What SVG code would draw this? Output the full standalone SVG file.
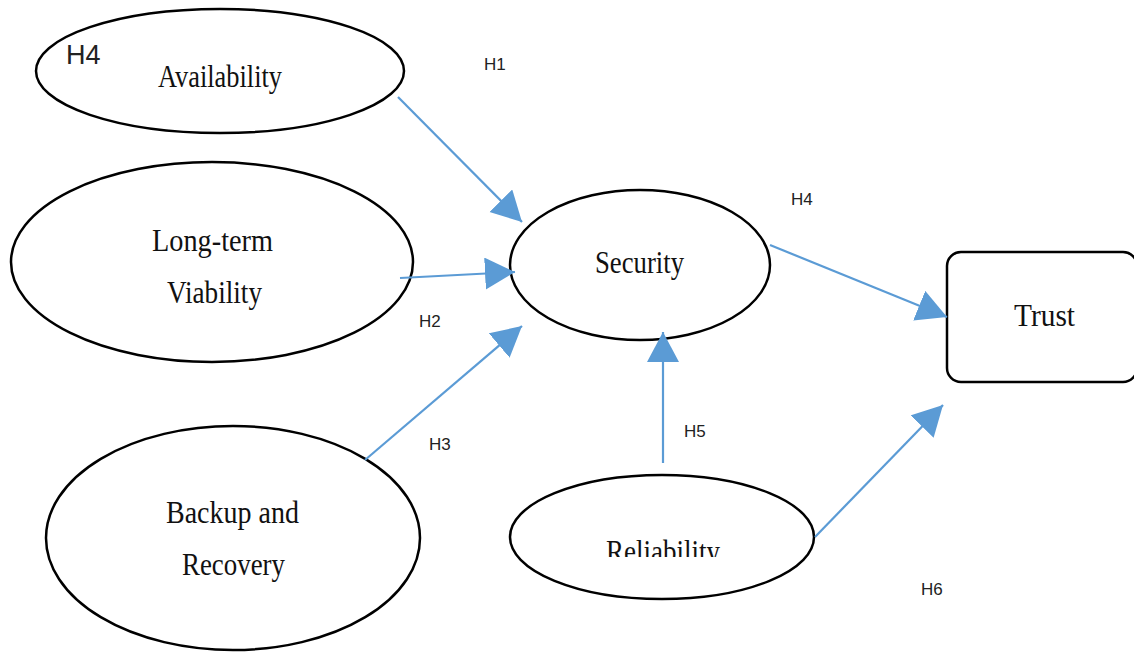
<svg xmlns="http://www.w3.org/2000/svg" width="1134" height="653" viewBox="0 0 1134 653">
<style>
.shape{fill:#fff;stroke:#000;stroke-width:2.5}
.nt{font-family:"Liberation Serif","Times New Roman",serif;font-size:32px;fill:#111;text-anchor:middle}
.lbl{font-family:"Liberation Sans",Arial,sans-serif;font-size:17px;fill:#222}
.conn{stroke:#5B9BD5;stroke-width:2.2;fill:none;marker-end:url(#ah)}
</style>
<defs>
<marker id="ah" markerUnits="userSpaceOnUse" markerWidth="32" markerHeight="34" refX="30" refY="16" orient="auto">
<path d="M0,0 L30,16 L0,32 z" fill="#5B9BD5"/>
</marker>
<clipPath id="relclip"><rect x="500" y="470" width="330" height="87"/></clipPath>
</defs>
<rect width="1134" height="653" fill="#fff"/>
<g id="availability">
<ellipse class="shape" cx="220" cy="71" rx="184" ry="62"/>
<text class="nt" x="220" y="87" textLength="124" lengthAdjust="spacingAndGlyphs">Availability</text>
<text class="lbl" x="66" y="64" style="font-size:27px">H4</text>
</g>
<g id="long-term-viability">
<ellipse class="shape" cx="212" cy="262" rx="201" ry="100"/>
<text class="nt" x="212.5" y="251" textLength="121" lengthAdjust="spacingAndGlyphs">Long-term</text>
<text class="nt" x="214.5" y="303" textLength="95" lengthAdjust="spacingAndGlyphs">Viability</text>
</g>
<g id="backup-recovery">
<ellipse class="shape" cx="233" cy="538" rx="187" ry="112"/>
<text class="nt" x="232.5" y="523" textLength="133" lengthAdjust="spacingAndGlyphs">Backup and</text>
<text class="nt" x="233.5" y="575" textLength="103" lengthAdjust="spacingAndGlyphs">Recovery</text>
</g>
<g id="security">
<ellipse class="shape" cx="640" cy="265" rx="130" ry="75"/>
<text class="nt" x="639.5" y="273" textLength="89" lengthAdjust="spacingAndGlyphs">Security</text>
</g>
<g id="reliability">
<ellipse class="shape" cx="662" cy="537" rx="152" ry="62"/>
<text class="nt" x="663" y="562" textLength="114" lengthAdjust="spacingAndGlyphs" clip-path="url(#relclip)">Reliability</text>
</g>
<g id="trust">
<rect class="shape" x="947" y="252" width="190" height="130" rx="14"/>
<text class="nt" x="1044.5" y="326" textLength="61" lengthAdjust="spacingAndGlyphs">Trust</text>
</g>
<g id="connectors">
<line class="conn" x1="398" y1="97" x2="522" y2="222"/>
<line class="conn" x1="400" y1="278" x2="515" y2="272"/>
<line class="conn" x1="365" y1="460" x2="522" y2="326"/>
<line class="conn" x1="770" y1="245" x2="947" y2="317"/>
<line class="conn" x1="663" y1="463" x2="663" y2="332"/>
<line class="conn" x1="815" y1="537" x2="943" y2="405"/>
</g>
<g id="labels">
<text class="lbl" x="484" y="70">H1</text>
<text class="lbl" x="791" y="205">H4</text>
<text class="lbl" x="419" y="327">H2</text>
<text class="lbl" x="429" y="450">H3</text>
<text class="lbl" x="684" y="437">H5</text>
<text class="lbl" x="921" y="595">H6</text>
</g>
</svg>
